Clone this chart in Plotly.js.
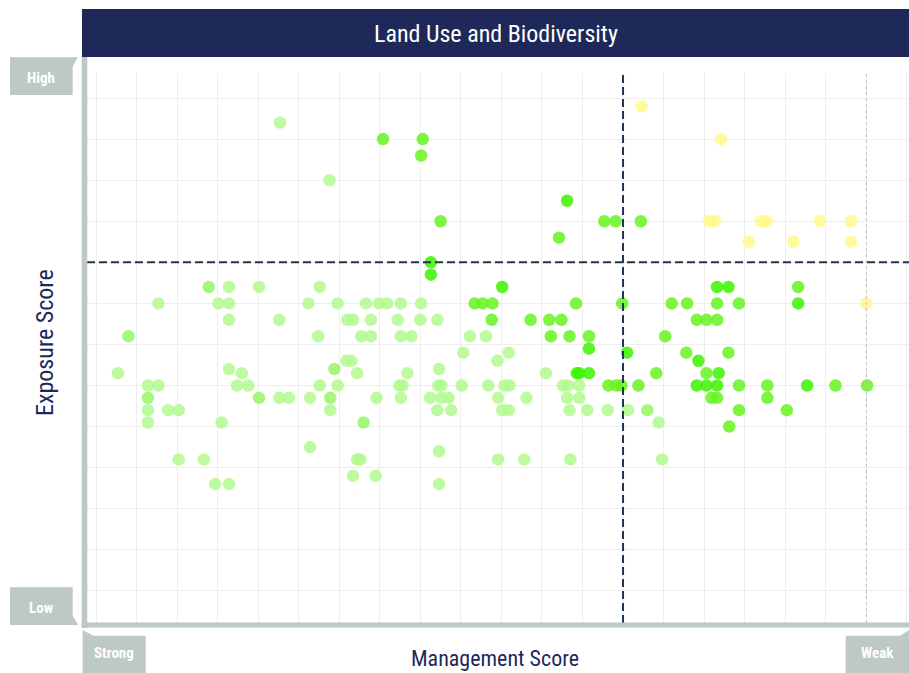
<!DOCTYPE html>
<html><head><meta charset="utf-8">
<script src="https://cdn.plot.ly/plotly-3.0.1.min.js"></script>
<style>html,body{margin:0;padding:0;background:#fff;overflow:hidden}#chart{width:909px;height:673px}</style>
</head><body><div id="chart"></div>
<script>
// ---- texts ----
const chartTitle = "Land Use and Biodiversity";
const xTitle = "Management Score";
const yTitle = "Exposure Score";
const yEndLabels = ["High", "Low"];
const xEndLabels = ["Strong", "Weak"];

// ---- reference lines ----
const mgmtThreshold = 65;
const exposureThreshold = 90;
const mgmtReference = 95;

// ---- data (read row by row, top to bottom) ----
const mgmtScore = [
  22.7,35.4,40.3,40.1,28.8,42.5,41.3,41.3,67.3,77.1,58.1,62.7,64.1,67.2,57.1,75.6,76.3,82.0,82.7,89.3,93.1,80.5,86.0,93.1,
  13.9,16.4,20.1,27.6,50.1,76.6,78.0,86.6,
  7.7,15.1,16.4,26.2,29.8,33.3,34.9,35.9,37.6,40.1,46.7,47.7,48.9,59.2,64.9,71.0,72.9,76.6,79.3,86.6,95.0,
  16.4,22.6,31.0,31.7,33.9,37.2,40.0,42.1,48.8,53.6,55.9,57.4,74.1,75.3,76.6,
  4.0,27.4,32.7,33.9,37.6,38.9,46.1,48.1,56.1,58.4,60.8,70.2,
  60.8,
  45.3,50.9,65.5,72.8,78.0,
  30.9,31.5,49.5,74.3,
  16.4,29.4,42.3,
  2.7,18.0,32.2,38.4,55.5,59.3,59.6,60.8,69.1,75.3,76.8,
  6.4,7.7,17.4,18.8,27.6,29.8,37.4,37.8,42.2,42.6,45.1,48.4,50.4,51.0,57.6,58.2,59.6,63.2,64.2,64.8,66.9,74.1,75.3,76.6,79.3,82.8,87.7,91.2,95.1,
  6.4,20.1,22.6,23.8,26.4,28.9,34.6,37.6,41.2,42.6,43.5,49.6,53.1,58.1,59.6,75.9,76.6,82.8,
  6.4,8.9,10.2,28.9,42.1,43.8,50.1,50.9,58.4,60.6,63.1,65.6,68.0,79.3,85.2,
  6.4,15.5,33.0,69.4,
  78.1,
  26.4,
  42.3,
  10.2,13.3,32.2,32.6,49.6,52.8,58.5,69.8,
  31.7,34.5,
  14.7,16.4,42.3
];
const exposureScore = [
  124,120,120,116,110,100,90,87,128,120,105,100,100,100,96,100,100,100,100,100,100,95,95,95,
  84,84,84,84,84,84,84,84,
  80,80,80,80,80,80,80,80,80,80,80,80,80,80,80,80,80,80,80,80,80,
  76,76,76,76,76,76,76,76,76,76,76,76,76,76,76,
  72,72,72,72,72,72,72,72,72,72,72,72,
  69,
  68,68,68,68,68,
  66,66,66,66,
  64,64,64,
  63,63,63,63,63,63,63,63,63,63,63,
  60,60,60,60,60,60,60,60,60,60,60,60,60,60,60,60,60,60,60,60,60,60,60,60,60,60,60,60,60,
  57,57,57,57,57,57,57,57,57,57,57,57,57,57,57,57,57,57,
  54,54,54,54,54,54,54,54,54,54,54,54,54,54,54,
  51,51,51,51,
  50,
  45,
  44,
  42,42,42,42,42,42,42,42,
  38,38,
  36,36,36
];
// 0 = yellow, 1 = bright green, 2 = green, 3 = pale green, 4 = palest green
const colorLevel = [
  4,2,2,2,4,2,1,1,0,0,1,2,2,2,2,0,0,0,0,0,0,0,0,0,
  3,4,4,4,1,1,1,2,
  4,4,4,4,4,4,4,4,4,4,2,2,2,2,2,2,2,2,2,1,0,
  4,4,4,4,4,4,4,4,2,2,2,2,2,2,2,
  3,4,4,4,4,4,4,4,2,2,2,2,
  1,
  4,4,1,2,2,
  4,4,4,1,
  4,3,4,
  4,4,4,4,4,1,1,1,2,2,1,
  4,4,4,4,4,4,4,4,4,4,4,4,4,4,4,4,4,2,2,2,2,1,1,1,2,2,1,2,2,
  3,3,4,4,4,3,4,4,4,4,4,4,4,4,4,2,2,2,
  4,4,4,4,4,4,4,4,4,4,4,4,3,2,2,
  4,4,3,4,
  2,
  4,
  4,
  4,4,4,4,4,4,4,4,
  4,4,
  4,4,4
];

// ---- styling ----
const W = 909, H = 673;
const plotL = 87, plotR = 909, plotT = 73, plotB = 623;
const pX = px => (px - plotL) / (plotR - plotL);
const pY = py => (plotB - py) / (plotB - plotT);
const poly = pts => 'M' + pts.map(p => pX(p[0]).toFixed(5) + ',' + pY(p[1]).toFixed(5)).join(' L') + ' Z';

const navy = '#1e2959';
const grey = '#bec8c4';
const lineNavy = '#1f3552';
const FONT = 'Liberation Sans Narrow, Arial Narrow, Roboto Condensed, DejaVu Sans Condensed, sans-serif';

const trace = {
  type: 'scatter', mode: 'markers',
  x: mgmtScore, y: exposureScore,
  marker: {
    size: 12.5, opacity: 0.85,
    color: colorLevel, cmin: 0, cmax: 4,
    colorscale: [[0, 'rgb(255,249,137)'], [0.25, 'rgb(61,243,0)'], [0.5, 'rgb(102,243,32)'], [0.75, 'rgb(149,247,102)'], [1, 'rgb(179,249,143)']],
    showscale: false, line: {width: 0}
  },
  hoverinfo: 'skip'
};

const shapes = [
  {type:'line', xref:'x', yref:'paper', x0:mgmtReference, x1:mgmtReference, y0:0, y1:1, line:{color:'#bdbdbd', width:1, dash:'dot'}, layer:'above'},
  {type:'line', xref:'x', yref:'paper', x0:mgmtThreshold, x1:mgmtThreshold, y0:0, y1:1, line:{color:lineNavy, width:2, dash:'8px,4px'}, layer:'above'},
  {type:'line', xref:'paper', yref:'y', x0:0, x1:1, y0:exposureThreshold, y1:exposureThreshold, line:{color:lineNavy, width:2, dash:'8px,4px'}, layer:'above'},
  {type:'rect', xref:'paper', yref:'paper', x0:pX(82), x1:pX(909), y0:pY(57), y1:pY(9), fillcolor:navy, line:{width:0}, layer:'above'},
  {type:'rect', xref:'paper', yref:'paper', x0:pX(81.7), x1:pX(87.3), y0:pY(628), y1:pY(57), fillcolor:grey, line:{width:0}, layer:'above'},
  {type:'rect', xref:'paper', yref:'paper', x0:pX(81.7), x1:pX(909), y0:pY(627.5), y1:pY(622.5), fillcolor:grey, line:{width:0}, layer:'above'},
  {type:'path', xref:'paper', yref:'paper', path: poly([[10,57.3],[77.7,57.3],[72.7,66.7],[72.7,95],[10,95]]), fillcolor:grey, line:{width:0}, layer:'above'},
  {type:'path', xref:'paper', yref:'paper', path: poly([[10,587.3],[72.7,587.3],[72.7,615.7],[78.3,625],[10,625]]), fillcolor:grey, line:{width:0}, layer:'above'},
  {type:'path', xref:'paper', yref:'paper', path: poly([[82.7,630],[93.3,635.7],[145.7,635.7],[145.7,673],[82.7,673]]), fillcolor:grey, line:{width:0}, layer:'above'},
  {type:'path', xref:'paper', yref:'paper', path: poly([[845.7,635.7],[900,635.7],[909,630],[909,673],[845.7,673]]), fillcolor:grey, line:{width:0}, layer:'above'}
];

const ann = (text, px, py, size, color, extra) => Object.assign({
  text: text, xref:'paper', yref:'paper', x: pX(px), y: pY(py),
  xanchor:'center', yanchor:'middle', showarrow:false,
  font:{family: FONT, size: size, color: color}
}, extra || {});

const annotations = [
  ann(chartTitle, 495.5, 33.5, 24, '#ffffff'),
  ann(xTitle, 495, 658, 22, navy),
  ann(yTitle, 45, 343, 24, navy, {textangle:-90}),
  ann('<b>' + yEndLabels[0] + '</b>', 40.5, 77.5, 15, '#ffffff'),
  ann('<b>' + yEndLabels[1] + '</b>', 41, 607.5, 15, '#ffffff'),
  ann('<b>' + xEndLabels[0] + '</b>', 113.5, 653, 15, '#ffffff'),
  ann('<b>' + xEndLabels[1] + '</b>', 877, 653, 15, '#ffffff')
];

const layout = {
  width: W, height: H,
  margin: {l: plotL, r: W - plotR, t: plotT, b: H - plotB, pad: 0},
  paper_bgcolor: '#ffffff', plot_bgcolor: '#ffffff',
  showlegend: false,
  xaxis: {range: [-1.11, 100.27], tick0: 0, dtick: 5, showticklabels: false, ticks: '',
          showgrid: true, gridcolor: '#eeeeee', gridwidth: 1, zeroline: false, showline: false, fixedrange: true},
  yaxis: {range: [2.17, 136.1], tick0: 0, dtick: 10, showticklabels: false, ticks: '',
          showgrid: true, gridcolor: '#eeeeee', gridwidth: 1, zeroline: false, showline: false, fixedrange: true},
  shapes: shapes,
  annotations: annotations
};

Plotly.newPlot('chart', [trace], layout, {displayModeBar: false, staticPlot: true});
</script>
</body></html>
